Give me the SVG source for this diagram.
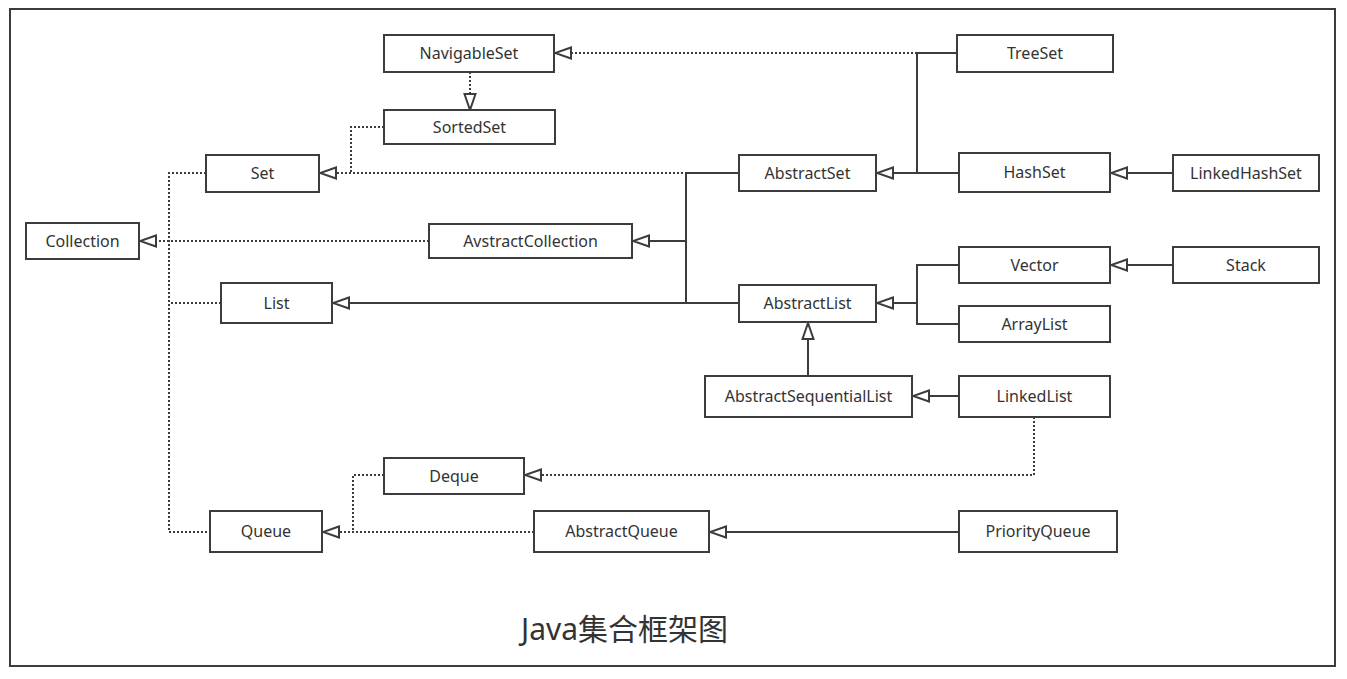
<svg xmlns="http://www.w3.org/2000/svg" width="1347" height="679" viewBox="0 0 1347 679">
<style>
.box{fill:#fff;stroke:#3c3c3c;stroke-width:2}
.lbl{font-family:"Noto Sans","Liberation Sans",sans-serif;font-size:16px;fill:#333;text-anchor:middle}
.solid{fill:none;stroke:#3c3c3c;stroke-width:2}
.dot{fill:none;stroke:#3c3c3c;stroke-width:2;stroke-dasharray:2 2}
.title{font-family:"Noto Sans","Noto Sans CJK SC",sans-serif;font-size:30px;fill:#333}
</style>
<defs>
<marker id="tri" markerUnits="userSpaceOnUse" markerWidth="20" markerHeight="14" refX="18" refY="7" orient="auto" viewBox="0 0 20 14">
<path d="M2,1.5 L18,7 L2,12.5 Z" fill="#fff" stroke="#3c3c3c" stroke-width="2" stroke-linejoin="miter"/>
</marker>
</defs>
<rect width="1347" height="679" fill="#fff"/>
<rect x="10" y="9" width="1325" height="657" fill="none" stroke="#3c3c3c" stroke-width="2"/>
<g id="connectors">
<path class="dot" d="M957,53 L555,53" marker-end="url(#tri)"/>
<path class="solid" d="M957,53 L917,53 L917,173"/>
<path class="solid" d="M959,173 L877,173" marker-end="url(#tri)"/>
<path class="solid" d="M1173,173 L1111,173" marker-end="url(#tri)"/>
<path class="dot" d="M739,173 L320,173" marker-end="url(#tri)"/>
<path class="solid" d="M739,173 L686,173 L686,303"/>
<path class="solid" d="M686,241 L633,241" marker-end="url(#tri)"/>
<path class="solid" d="M739,303 L333,303" marker-end="url(#tri)"/>
<path class="solid" d="M959,265 L917,265 L917,324 L959,324"/>
<path class="solid" d="M917,303 L877,303" marker-end="url(#tri)"/>
<path class="solid" d="M1173,265 L1111,265" marker-end="url(#tri)"/>
<path class="solid" d="M808,376 L808,323" marker-end="url(#tri)"/>
<path class="solid" d="M959,396 L913,396" marker-end="url(#tri)"/>
<path class="dot" d="M1034,417 L1034,475 L525,475" marker-end="url(#tri)"/>
<path class="dot" d="M384,475 L353,475 L353,532"/>
<path class="dot" d="M534,532 L323,532" marker-end="url(#tri)"/>
<path class="solid" d="M959,532 L710,532" marker-end="url(#tri)"/>
<path class="dot" d="M206,173 L169,173 L169,532 L210,532"/>
<path class="dot" d="M221,303 L169,303"/>
<path class="dot" d="M429,241 L140,241" marker-end="url(#tri)"/>
<path class="dot" d="M470,72 L470,110" marker-end="url(#tri)"/>
<path class="dot" d="M384,127 L351,127 L351,173"/>
</g>
<g id="NavigableSet"><rect class="box" x="384" y="35" width="170" height="37"/><text class="lbl" x="469" y="59">NavigableSet</text></g>
<g id="SortedSet"><rect class="box" x="384" y="110" width="171" height="34"/><text class="lbl" x="469.5" y="132.5">SortedSet</text></g>
<g id="TreeSet"><rect class="box" x="957" y="35" width="156" height="37"/><text class="lbl" x="1035" y="59">TreeSet</text></g>
<g id="Set"><rect class="box" x="206" y="155" width="113" height="37"/><text class="lbl" x="262.5" y="179">Set</text></g>
<g id="AbstractSet"><rect class="box" x="739" y="155" width="137" height="36"/><text class="lbl" x="807.5" y="178.5">AbstractSet</text></g>
<g id="HashSet"><rect class="box" x="959" y="153" width="151" height="39"/><text class="lbl" x="1034.5" y="178">HashSet</text></g>
<g id="LinkedHashSet"><rect class="box" x="1173" y="155" width="146" height="36"/><text class="lbl" x="1246" y="178.5">LinkedHashSet</text></g>
<g id="Collection"><rect class="box" x="26" y="223" width="113" height="36"/><text class="lbl" x="82.5" y="246.5">Collection</text></g>
<g id="AvstractCollection"><rect class="box" x="429" y="224" width="203" height="34"/><text class="lbl" x="530.5" y="246.5">AvstractCollection</text></g>
<g id="Vector"><rect class="box" x="959" y="247" width="151" height="36"/><text class="lbl" x="1034.5" y="270.5">Vector</text></g>
<g id="Stack"><rect class="box" x="1173" y="247" width="146" height="36"/><text class="lbl" x="1246" y="270.5">Stack</text></g>
<g id="List"><rect class="box" x="221" y="283" width="111" height="40"/><text class="lbl" x="276.5" y="308.5">List</text></g>
<g id="AbstractList"><rect class="box" x="739" y="285" width="137" height="37"/><text class="lbl" x="807.5" y="309">AbstractList</text></g>
<g id="ArrayList"><rect class="box" x="959" y="306" width="151" height="36"/><text class="lbl" x="1034.5" y="329.5">ArrayList</text></g>
<g id="AbstractSequentialList"><rect class="box" x="705" y="376" width="207" height="41"/><text class="lbl" x="808.5" y="402">AbstractSequentialList</text></g>
<g id="LinkedList"><rect class="box" x="959" y="376" width="151" height="41"/><text class="lbl" x="1034.5" y="402">LinkedList</text></g>
<g id="Deque"><rect class="box" x="384" y="458" width="140" height="36"/><text class="lbl" x="454" y="481.5">Deque</text></g>
<g id="Queue"><rect class="box" x="210" y="511" width="112" height="41"/><text class="lbl" x="266" y="537">Queue</text></g>
<g id="AbstractQueue"><rect class="box" x="534" y="511" width="175" height="41"/><text class="lbl" x="621.5" y="537">AbstractQueue</text></g>
<g id="PriorityQueue"><rect class="box" x="959" y="511" width="158" height="41"/><text class="lbl" x="1038" y="537">PriorityQueue</text></g>
<text class="title" x="521" y="640">Java集合框架图</text>
</svg>
